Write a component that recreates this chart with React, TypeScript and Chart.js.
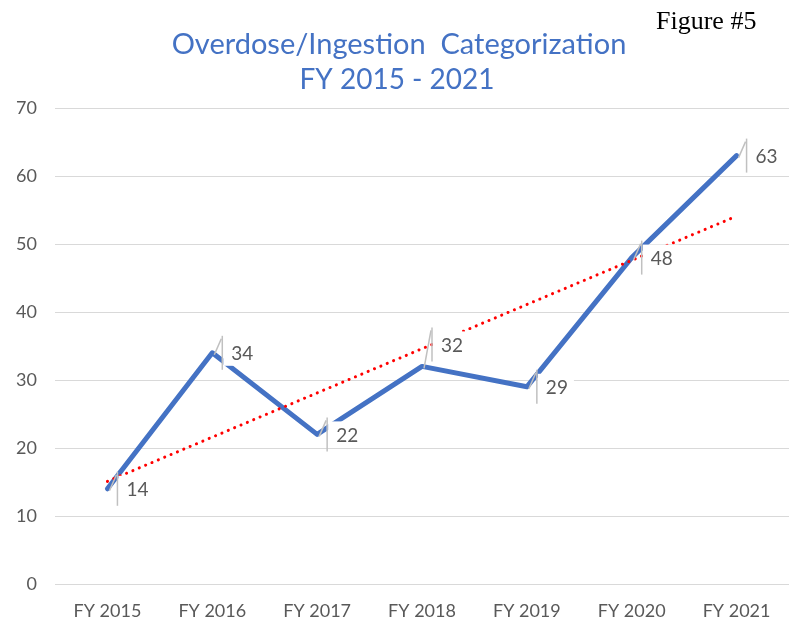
import React, { useEffect, useRef } from "react";
import { Chart, registerables } from "chart.js";

Chart.register(...registerables);

const categories = ["FY 2015", "FY 2016", "FY 2017", "FY 2018", "FY 2019", "FY 2020", "FY 2021"];
const counts = [14, 34, 22, 32, 29, 48, 63];
const trendValues = [15.1, null, null, null, null, null, 54.1];
const yTicks = [0, 10, 20, 30, 40, 50, 60, 70];
const titleLines = ["Overdose/Ingestion  Categorization", "FY 2015 - 2021"];
const figureLabel = "Figure #5";

const FONT = "Lato, 'Open Sans', sans-serif";
const BLUE = "#4472C4";
const GREY_TEXT = "#595959";

const labelLift = [0, 0, 0, 22, 0, 0, 0];

const decorPlugin = {
  id: "decor",
  afterDatasetsDraw(chart: any) {
    const ctx = chart.ctx;
    const meta = chart.getDatasetMeta(0);
    ctx.save();
    ctx.font = `19px ${FONT}`;
    meta.data.forEach((pt: any, i: number) => {
      const x = pt.x;
      const y = pt.y;
      const ly = y - labelLift[i];
      const txt = String(counts[i]);
      const w = ctx.measureText(txt).width;
      ctx.fillStyle = "#ffffff";
      ctx.fillRect(x + 11, ly - 13, w + 14, 26);
      ctx.strokeStyle = "#c0c0c0";
      ctx.lineWidth = 1.5;
      ctx.beginPath();
      ctx.moveTo(x + 10, ly - 17);
      ctx.lineTo(x + 10, ly + 17);
      ctx.stroke();
      ctx.beginPath();
      ctx.moveTo(x + 2, y + 2);
      ctx.lineTo(x + 9, ly - 14);
      ctx.stroke();
      ctx.fillStyle = GREY_TEXT;
      ctx.textAlign = "left";
      ctx.textBaseline = "middle";
      ctx.fillText(txt, x + 19, ly + 1);
    });
    ctx.restore();
  },
  afterDraw(chart: any) {
    const ctx = chart.ctx;
    ctx.save();
    ctx.fillStyle = BLUE;
    ctx.textAlign = "center";
    ctx.textBaseline = "middle";
    ctx.font = `29px ${FONT}`;
    ctx.fillText(titleLines[0], 399, 45);
    ctx.font = `28px ${FONT}`;
    ctx.fillText(titleLines[1], 397, 80);
    ctx.fillStyle = "#000000";
    ctx.textAlign = "left";
    ctx.textBaseline = "alphabetic";
    ctx.font = `26px "Liberation Serif", serif`;
    ctx.fillText(figureLabel, 656, 29);
    ctx.restore();
  },
};

export default function App() {
  const ref = useRef<HTMLCanvasElement | null>(null);
  useEffect(() => {
    if (!ref.current) return;
    const chart = new Chart(ref.current, {
      type: "line",
      data: {
        labels: categories,
        datasets: [
          {
            data: counts,
            borderColor: BLUE,
            borderWidth: 5,
            pointRadius: 0,
            borderCapStyle: "round",
            borderJoinStyle: "round",
            tension: 0,
            order: 2,
          },
          {
            data: trendValues,
            borderColor: "#FF0000",
            borderWidth: 3,
            borderDash: [0.1, 6.8],
            borderCapStyle: "round",
            pointRadius: 0,
            spanGaps: true,
            order: 1,
          },
        ],
      },
      options: {
        responsive: false,
        animation: false,
        layout: { padding: { top: 108, left: 10, right: 9, bottom: 0 } },
        plugins: {
          legend: { display: false },
          title: { display: false },
          tooltip: { enabled: false },
        },
        scales: {
          x: {
            offset: true,
            grid: { display: false, drawTicks: false },
            border: { display: false },
            afterFit: (scale: any) => {
              scale.height = 38;
            },
            ticks: { color: GREY_TEXT, font: { family: FONT, size: 18 }, padding: 16, maxRotation: 0 },
          },
          y: {
            min: 0,
            max: 70,
            afterBuildTicks: (scale: any) => {
              scale.ticks = yTicks.map((v) => ({ value: v }));
            },
            afterFit: (scale: any) => {
              scale.width = 45;
            },
            grid: { color: "#d9d9d9", lineWidth: 1, drawTicks: false },
            border: { display: false },
            ticks: { color: GREY_TEXT, font: { family: FONT, size: 18 }, padding: 18 },
          },
        },
      },
      plugins: [decorPlugin],
    });
    return () => chart.destroy();
  }, []);
  return (
    <div style={{ position: "fixed", left: 0, top: 0, width: 798, height: 622, background: "#fff" }}>
      <canvas ref={ref} width={798} height={622} />
    </div>
  );
}
